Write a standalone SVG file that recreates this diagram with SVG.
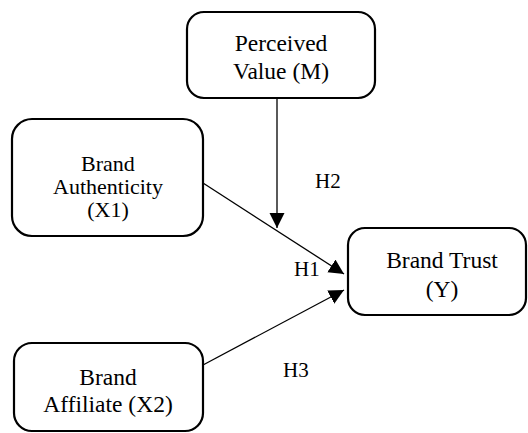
<svg xmlns="http://www.w3.org/2000/svg" width="528" height="433" viewBox="0 0 528 433">
<style>
.box{fill:#fff;stroke:#000;stroke-width:2.2}
.t{font-family:"Liberation Serif","Times New Roman",serif;font-size:23.5px;fill:#000;text-anchor:middle}
.s{font-size:22px}
.h{font-family:"Liberation Serif","Times New Roman",serif;font-size:21px;fill:#000}
.c{stroke:#000;stroke-width:1.3;fill:none}
</style>
<defs>
<marker id="ah" markerUnits="userSpaceOnUse" markerWidth="16" markerHeight="16" viewBox="0 0 16 16" refX="15" refY="7.5" orient="auto">
<path d="M0,0 L15,7.5 L0,15 z" fill="#000"/>
</marker>
</defs>
<rect width="528" height="433" fill="#fff"/>
<g id="connectors">
<line class="c" x1="277" y1="99" x2="277" y2="228" marker-end="url(#ah)"/>
<line class="c" x1="203" y1="183" x2="344" y2="274" marker-end="url(#ah)"/>
<line class="c" x1="203" y1="365" x2="344" y2="290" marker-end="url(#ah)"/>
</g>
<g id="labels">
<text class="h" x="315" y="188">H2</text>
<text class="h" x="294" y="276">H1</text>
<text class="h" x="283" y="377">H3</text>
</g>
<g id="node-m">
<rect class="box" x="187" y="12" width="188" height="86" rx="17"/>
<text class="t" x="281" y="51">Perceived</text>
<text class="t" x="281" y="79">Value (M)</text>
</g>
<g id="node-x1">
<rect class="box" x="12" y="119" width="191" height="117" rx="20"/>
<text class="t s" x="108" y="171">Brand</text>
<text class="t s" x="108" y="194">Authenticity</text>
<text class="t s" x="108" y="217">(X1)</text>
</g>
<g id="node-x2">
<rect class="box" x="14" y="343" width="189" height="88" rx="18"/>
<text class="t" x="108" y="385">Brand</text>
<text class="t" x="108" y="412">Affiliate (X2)</text>
</g>
<g id="node-y">
<rect class="box" x="348" y="228" width="178" height="87" rx="17"/>
<text class="t" x="442" y="268">Brand Trust</text>
<text class="t" x="442" y="297">(Y)</text>
</g>
</svg>
